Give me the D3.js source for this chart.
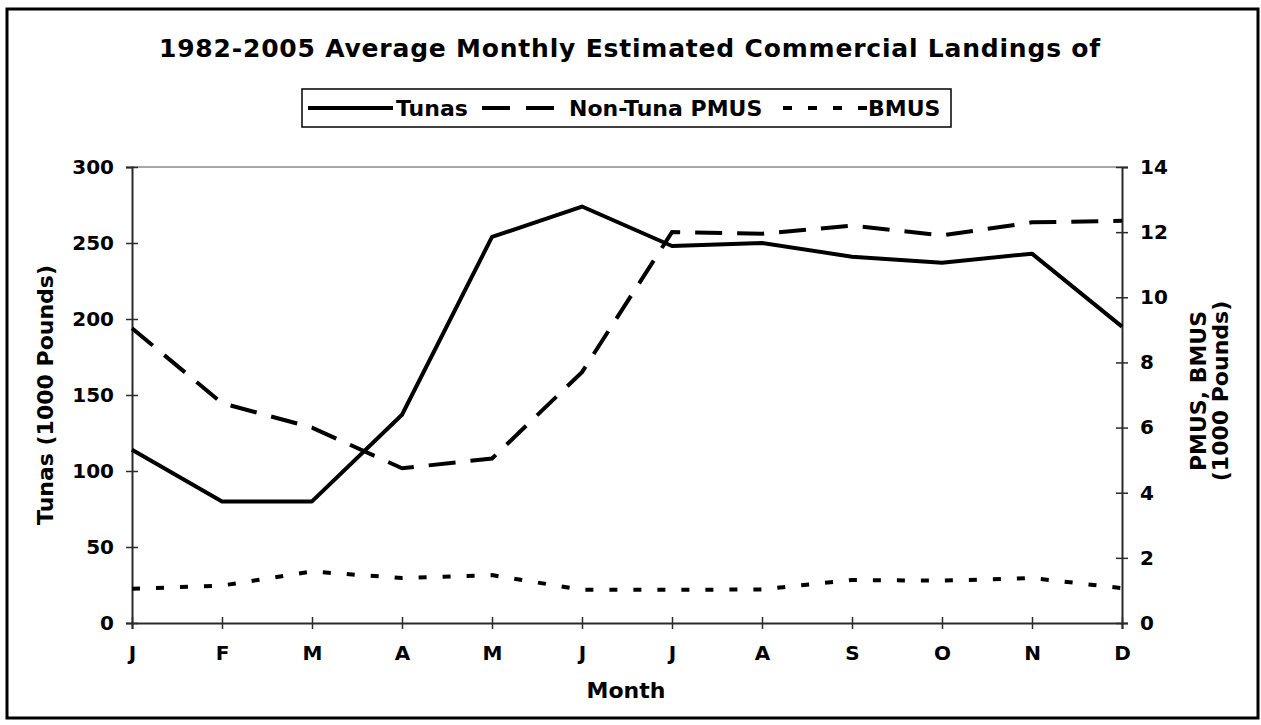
<!DOCTYPE html>
<html>
<head>
<meta charset="utf-8">
<script src="https://cdn.jsdelivr.net/npm/d3@7"></script>
<style>
  body { margin: 0; background: #fff; }
  svg { display: block; }
  text { font-family: "DejaVu Sans", Verdana, sans-serif; font-weight: bold; fill: #000; }
</style>
</head>
<body>
<svg width="1261" height="725"></svg>
<script>
var months = ["J", "F", "M", "A", "M", "J", "J", "A", "S", "O", "N", "D"];
var tunas = [114, 80, 80, 137, 254, 274, 248, 250, 241, 237, 243, 195];
var nonTunaPmus = [9.05, 6.75, 6.0, 4.75, 5.05, 7.7, 12.0, 11.95, 12.2, 11.9, 12.3, 12.35];
var bmus = [1.05, 1.15, 1.58, 1.38, 1.47, 1.02, 1.02, 1.03, 1.32, 1.3, 1.38, 1.07];
var leftTicks = [0, 50, 100, 150, 200, 250, 300];
var rightTicks = [0, 2, 4, 6, 8, 10, 12, 14];

var svg = d3.select("svg");
var margin = { top: 167, right: 139, bottom: 102, left: 132 },
	width = 1261 - margin.left - margin.right,
	height = 725 - margin.top - margin.bottom;

// outer frame
svg.append("rect")
	.attr("x", 7).attr("y", 9)
	.attr("width", 1251).attr("height", 709)
	.attr("fill", "none")
	.attr("stroke", "#000")
	.attr("stroke-width", 3);

svg.append("text")
	.attr("x", 630).attr("y", 57)
	.attr("text-anchor", "middle")
	.style("font-size", "25px")
	.style("letter-spacing", "0.8px")
	.text("1982-2005 Average Monthly Estimated Commercial Landings of");

var xScale = d3.scalePoint()
	.domain(d3.range(months.length))
	.range([0, width]);

var yLeft = d3.scaleLinear().domain([0, 300]).range([height, 0]);
var yRight = d3.scaleLinear().domain([0, 14]).range([height, 0]);

var g = svg.append("g").attr("transform", "translate(" + margin.left + "," + margin.top + ")");

// plot top border
g.append("line")
	.attr("x1", 0).attr("x2", width)
	.attr("y1", 0).attr("y2", 0)
	.attr("stroke", "#8a8a8a").attr("stroke-width", 1.5);

var xAxis = d3.axisBottom(xScale)
	.tickFormat(function(i) { return months[i]; })
	.tickSize(6).tickPadding(17);

var ax = g.append("g")
	.attr("class", "x axis")
	.attr("transform", "translate(0," + height + ")")
	.call(xAxis);
ax.selectAll(".tick line").attr("y1", -6).attr("y2", 6);

var axL = g.append("g")
	.attr("class", "y axis")
	.call(d3.axisLeft(yLeft).tickValues(leftTicks).tickSize(6).tickPadding(12));
axL.selectAll(".tick line").attr("x1", 6).attr("x2", -6);

var axR = g.append("g")
	.attr("class", "y axis")
	.attr("transform", "translate(" + width + ",0)")
	.call(d3.axisRight(yRight).tickValues(rightTicks).tickSize(6).tickPadding(12));
axR.selectAll(".tick line").attr("x1", -6).attr("x2", 6);

g.selectAll(".axis path").attr("stroke", "#2a2a2a").attr("stroke-width", 2);
g.selectAll(".axis .tick line").attr("stroke", "#2a2a2a").attr("stroke-width", 1.5);
g.selectAll(".axis text")
	.style("font-size", "20px")
	.style("font-family", "'DejaVu Sans', Verdana, sans-serif")
	.style("font-weight", "bold")
	.attr("fill", "#000");

// axis titles
g.append("text")
	.attr("transform", "translate(" + (-79) + "," + (height / 2) + ") rotate(-90)")
	.attr("text-anchor", "middle")
	.style("font-size", "22px")
	.text("Tunas (1000 Pounds)");

var rt = g.append("text")
	.attr("transform", "translate(" + (width + 84) + "," + (height / 2 - 4) + ") rotate(-90)")
	.attr("text-anchor", "middle")
	.style("font-size", "22px");
rt.append("tspan").attr("x", 0).attr("dy", 0).text("PMUS, BMUS");
rt.append("tspan").attr("x", 0).attr("dy", 22).text("(1000 Pounds)");

g.append("text")
	.attr("x", width / 2 - 1).attr("y", height + 75)
	.attr("text-anchor", "middle")
	.style("font-size", "22px")
	.text("Month");

// lines
var lineL = d3.line()
	.x(function(d, i) { return xScale(i); })
	.y(function(d) { return yLeft(d); });
var lineR = d3.line()
	.x(function(d, i) { return xScale(i); })
	.y(function(d) { return yRight(d); });

g.append("path")
	.datum(tunas)
	.attr("fill", "none")
	.attr("stroke", "#000")
	.attr("stroke-width", 4)
	.attr("stroke-linejoin", "round")
	.attr("d", lineL);

g.append("path")
	.datum(nonTunaPmus)
	.attr("fill", "none")
	.attr("stroke", "#000")
	.attr("stroke-width", 4)
	.attr("stroke-dasharray", "27,15")
	.attr("d", lineR);

g.append("path")
	.datum(bmus)
	.attr("fill", "none")
	.attr("stroke", "#000")
	.attr("stroke-width", 4)
	.attr("stroke-dasharray", "8,16")
	.attr("d", lineR);

// legend
var legend = svg.append("g").attr("class", "legend");
legend.append("rect")
	.attr("x", 302).attr("y", 89)
	.attr("width", 649).attr("height", 38)
	.attr("fill", "#fff")
	.attr("stroke", "#000")
	.attr("stroke-width", 1.5);

var legendItems = [
	{ name: "Tunas", dash: null, x1: 308, x2: 393, tx: 396 },
	{ name: "Non-Tuna PMUS", dash: "28,16", x1: 482, x2: 554, tx: 569 },
	{ name: "BMUS", dash: "9,16", x1: 783, x2: 867, tx: 868 }
];
legendItems.forEach(function(d) {
	legend.append("line")
		.attr("x1", d.x1).attr("x2", d.x2)
		.attr("y1", 108).attr("y2", 108)
		.attr("stroke", "#000")
		.attr("stroke-width", 4)
		.attr("stroke-dasharray", d.dash);
	legend.append("text")
		.attr("x", d.tx).attr("y", 116)
		.style("font-size", "22px")
		.text(d.name);
});
</script>
</body>
</html>
